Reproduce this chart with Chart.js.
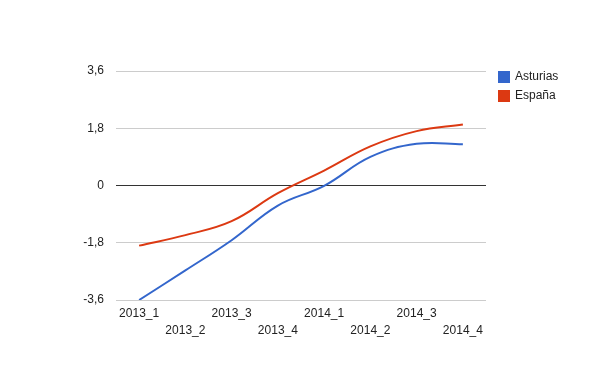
<!DOCTYPE html>
<html>
<head>
<meta charset="utf-8">
<script src="https://cdn.jsdelivr.net/npm/chart.js@4/dist/chart.umd.min.js"></script>
<style>
  html, body { margin: 0; padding: 0; background: #fff; }
  #wrap { width: 600px; height: 371px; position: relative; }
</style>
</head>
<body>
<div id="wrap"><canvas id="chart" width="600" height="371"></canvas></div>
<script>
// ── Data ──────────────────────────────────────────────
const categories = ['2013_1', '2013_2', '2013_3', '2013_4', '2014_1', '2014_2', '2014_3', '2014_4'];
const asturias = [-3.6, -2.67, -1.72, -0.63, -0.01, 0.9, 1.31, 1.3];
const espana = [-1.89, -1.56, -1.12, -0.24, 0.47, 1.23, 1.71, 1.92];
const yTicks = [-3.6, -1.8, 0, 1.8, 3.6];

const seriesNames = ['Asturias', 'España'];
const seriesColors = ['#3366cc', '#dc3912'];

const FONT = 'Arial, "Liberation Sans", sans-serif';

// ── Legend drawn on the right, Google style ───────────
const sideLegend = {
    id: 'sideLegend',
    afterDraw(chart) {
        const ctx = chart.ctx;
        ctx.save();
        ctx.font = '12px ' + FONT;
        ctx.textBaseline = 'middle';
        chart.data.datasets.forEach((ds, i) => {
            const y = 71 + i * 19;
            ctx.fillStyle = ds.borderColor;
            ctx.fillRect(498, y, 12, 12);
            ctx.fillStyle = '#222222';
            ctx.fillText(ds.label, 515, y + 6);
        });
        ctx.restore();
    }
};

new Chart(document.getElementById('chart'), {
    type: 'line',
    data: {
        labels: categories,
        datasets: [asturias, espana].map((vals, i) => ({
            label: seriesNames[i],
            data: vals,
            borderColor: seriesColors[i],
            backgroundColor: seriesColors[i],
            borderWidth: 2,
            pointRadius: 0,
            tension: 0.4,
            fill: false,
        }))
    },
    options: {
        responsive: false,
        animation: false,
        layout: { padding: { top: 71, right: 114, left: 0, bottom: 0 } },
        plugins: { legend: { display: false }, tooltip: { enabled: false } },
        scales: {
            x: {
                offset: true,
                grid: { display: false, drawTicks: false },
                border: { display: false },
                ticks: {
                    color: '#222222',
                    font: { family: FONT, size: 12, lineHeight: 1.4 },
                    maxRotation: 0,
                    autoSkip: false,
                    padding: 5,
                    callback: function (v, i) {
                        const t = categories[i];
                        return i % 2 === 0 ? [t, ''] : ['', t];
                    }
                },
                afterFit: s => { s.height = 71; }
            },
            y: {
                min: -3.6,
                max: 3.6,
                afterBuildTicks: s => { s.ticks = yTicks.map(v => ({ value: v })); },
                grid: {
                    drawTicks: false,
                    color: c => c.tick && c.tick.value === 0 ? '#333333' : '#cccccc',
                    lineWidth: 1
                },
                border: { display: false },
                ticks: {
                    color: '#222222',
                    font: { family: FONT, size: 12 },
                    padding: 12,
                    callback: v => String(v).replace('.', ',')
                },
                afterFit: s => { s.width = 116; }
            }
        }
    },
    plugins: [sideLegend]
});
</script>
</body>
</html>
